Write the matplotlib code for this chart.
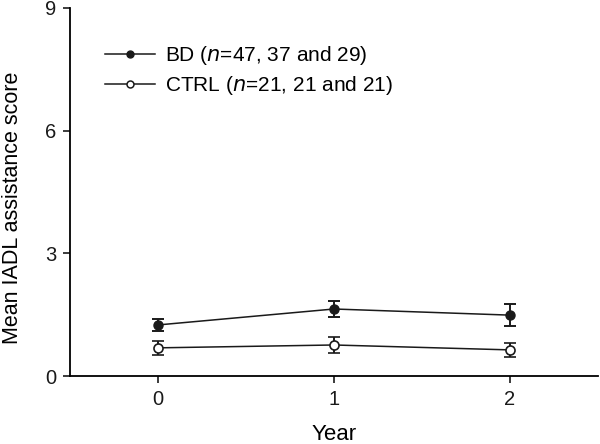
import matplotlib.pyplot as plt
from matplotlib.lines import Line2D

plt.rcParams['font.family'] = ['Liberation Sans Narrow', 'Liberation Sans', 'DejaVu Sans']

# values
years = [0, 1, 2]
bd_mean = [1.25, 1.64, 1.49]
bd_err = [0.15, 0.20, 0.27]
ctrl_mean = [0.69, 0.76, 0.64]
ctrl_err = [0.17, 0.20, 0.17]
y_ticks = [0, 3, 6, 9]
labels = ['BD ($n$=47, 37 and 29)', 'CTRL ($n$=21, 21 and 21)']

ink = '#1a1a1a'
fig = plt.figure(figsize=(6, 4.44), dpi=100)
ax = fig.add_axes([0.1167, 0.153, 0.88, 0.829])

ax.errorbar(years, bd_mean, yerr=bd_err, color=ink, lw=1.1, marker='o',
            ms=6.5, mfc=ink, mec=ink, capsize=4.5, elinewidth=1.4, capthick=1.4)
ax.errorbar(years, ctrl_mean, yerr=ctrl_err, color=ink, lw=1.1, marker='o',
            ms=6.5, mfc='white', mec=ink, mew=1.2, capsize=4.5, elinewidth=1.4, capthick=1.4)

ax.set_xlim(-0.5, 2.5)
ax.set_ylim(0, 9)
ax.set_xticks(years)
ax.set_yticks(y_ticks)
ax.spines['top'].set_visible(False)
ax.spines['right'].set_visible(False)
ax.spines['left'].set_linewidth(1.3)
ax.spines['bottom'].set_linewidth(1.3)
ax.tick_params(labelsize=14.5, length=5, width=1.2, colors=ink, pad=5)
ax.set_xlabel('Year', fontsize=16, va='top')
ax.xaxis.set_label_coords(0.5, -0.13)
ax.set_ylabel('Mean IADL assistance score', fontsize=15.5, va='center')
ax.yaxis.set_label_coords(-0.108, 0.457)

handles = [Line2D([], [], color=ink, lw=1.1, marker='o', ms=5, mfc=ink, mec=ink),
           Line2D([], [], color=ink, lw=1.1, marker='o', ms=5, mfc='white', mec=ink, mew=1.1)]
ax.legend(handles, labels, loc='upper left', bbox_to_anchor=(0.03, 0.952), frameon=False,
          fontsize=15, handlelength=2.4, handletextpad=0.5, labelspacing=0.33)

fig.savefig('out.png', dpi=100)
